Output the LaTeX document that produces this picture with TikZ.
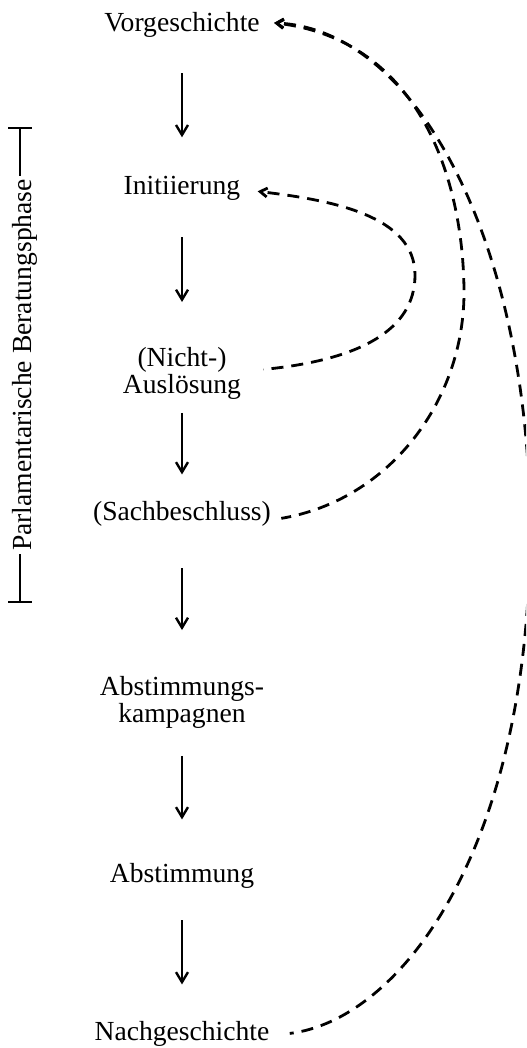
\documentclass[tikz,border=0pt]{standalone}
\usepackage{fontspec}
\setmainfont{Liberation Serif}
\usetikzlibrary{arrows.meta}
\begin{document}
\begin{tikzpicture}[x=0.5pt,y=-0.5pt,
  lbl/.style={inner sep=0pt, font=\fontsize{13.8}{13.5}\selectfont, align=center},
  flow/.style={line width=1.2pt, -{Straight Barb[length=5pt,width=6pt]}},
  back/.style={line width=1.4pt, dash pattern=on 6pt off 4pt, dash phase=7pt, {Straight Barb[length=3.5pt,width=4.5pt]}-},
  brk/.style={line width=1pt}]
\clip (0,0) rectangle (526,1048);
% process steps
\node[lbl, anchor=base]  (vor)   at (182,32)   {Vorgeschichte};
\node[lbl, anchor=base]  (init)  at (182,195)  {Initiierung};
\node[lbl, anchor=north] (nicht) at (182,347)  {(Nicht-)\\Auslösung};
\node[lbl, anchor=base]  (sach)  at (182,520)  {(Sachbeschluss)};
\node[lbl, anchor=north] (kamp)  at (182,676)  {Abstimmungs-\\kampagnen};
\node[lbl, anchor=base]  (abst)  at (182,882)  {Abstimmung};
\node[lbl, anchor=base]  (nach)  at (182,1040) {Nachgeschichte};
% downward arrows
\draw[flow, shorten <=17.5pt, shorten >=19.5pt] (vor.south) -- (init.north);
\draw[flow, shorten <=18pt, shorten >=22.5pt] (init.south) -- (nicht.north);
\draw[flow, shorten <=6.5pt, shorten >=13pt] (nicht.south) -- (sach.north);
\draw[flow, shorten <=21pt, shorten >=23pt] (sach.south) -- (kamp.north);
\draw[flow, shorten <=13.5pt, shorten >=21.5pt] (kamp.south) -- (abst.north);
\draw[flow, shorten <=16pt, shorten >=18pt] (abst.south) -- (nach.north);
% feedback loops (drawn from the arrow tip back to their source)
\draw[back] ([xshift=8.5pt,yshift=-1.25pt]init.east)
  .. controls (330,200) and (415,215) .. (415,275)
  .. controls (415,330) and (360,360) .. ([xshift=11pt,yshift=2pt]nicht.east);
\draw[back] ([xshift=7pt,yshift=1.25pt]vor.east)
  .. controls (420,40) and (463,180) .. (464,290)
  .. controls (465,400) and (390,500) .. ([xshift=5pt,yshift=-2.5pt]sach.east);
\draw[back] ([xshift=7pt,yshift=1.25pt]vor.east)
  .. controls (420,30) and (530,250) .. (530,530)
  .. controls (530,850) and (400,1020) .. ([xshift=10pt]nach.east);
% phase bracket
\node[lbl, rotate=90, anchor=base, inner sep=1.5pt] (phase) at (32,365) {Parlamentarische Beratungsphase};
\coordinate (bt) at (20,128);
\coordinate (bb) at (20,602);
\draw[brk] (bt) -- (bt |- phase.east);
\draw[brk] (bb) -- (bb |- phase.west);
\draw[brk] ([xshift=-6pt]bt) -- ([xshift=6pt]bt);
\draw[brk] ([xshift=-6pt]bb) -- ([xshift=6pt]bb);
\end{tikzpicture}
\end{document}
